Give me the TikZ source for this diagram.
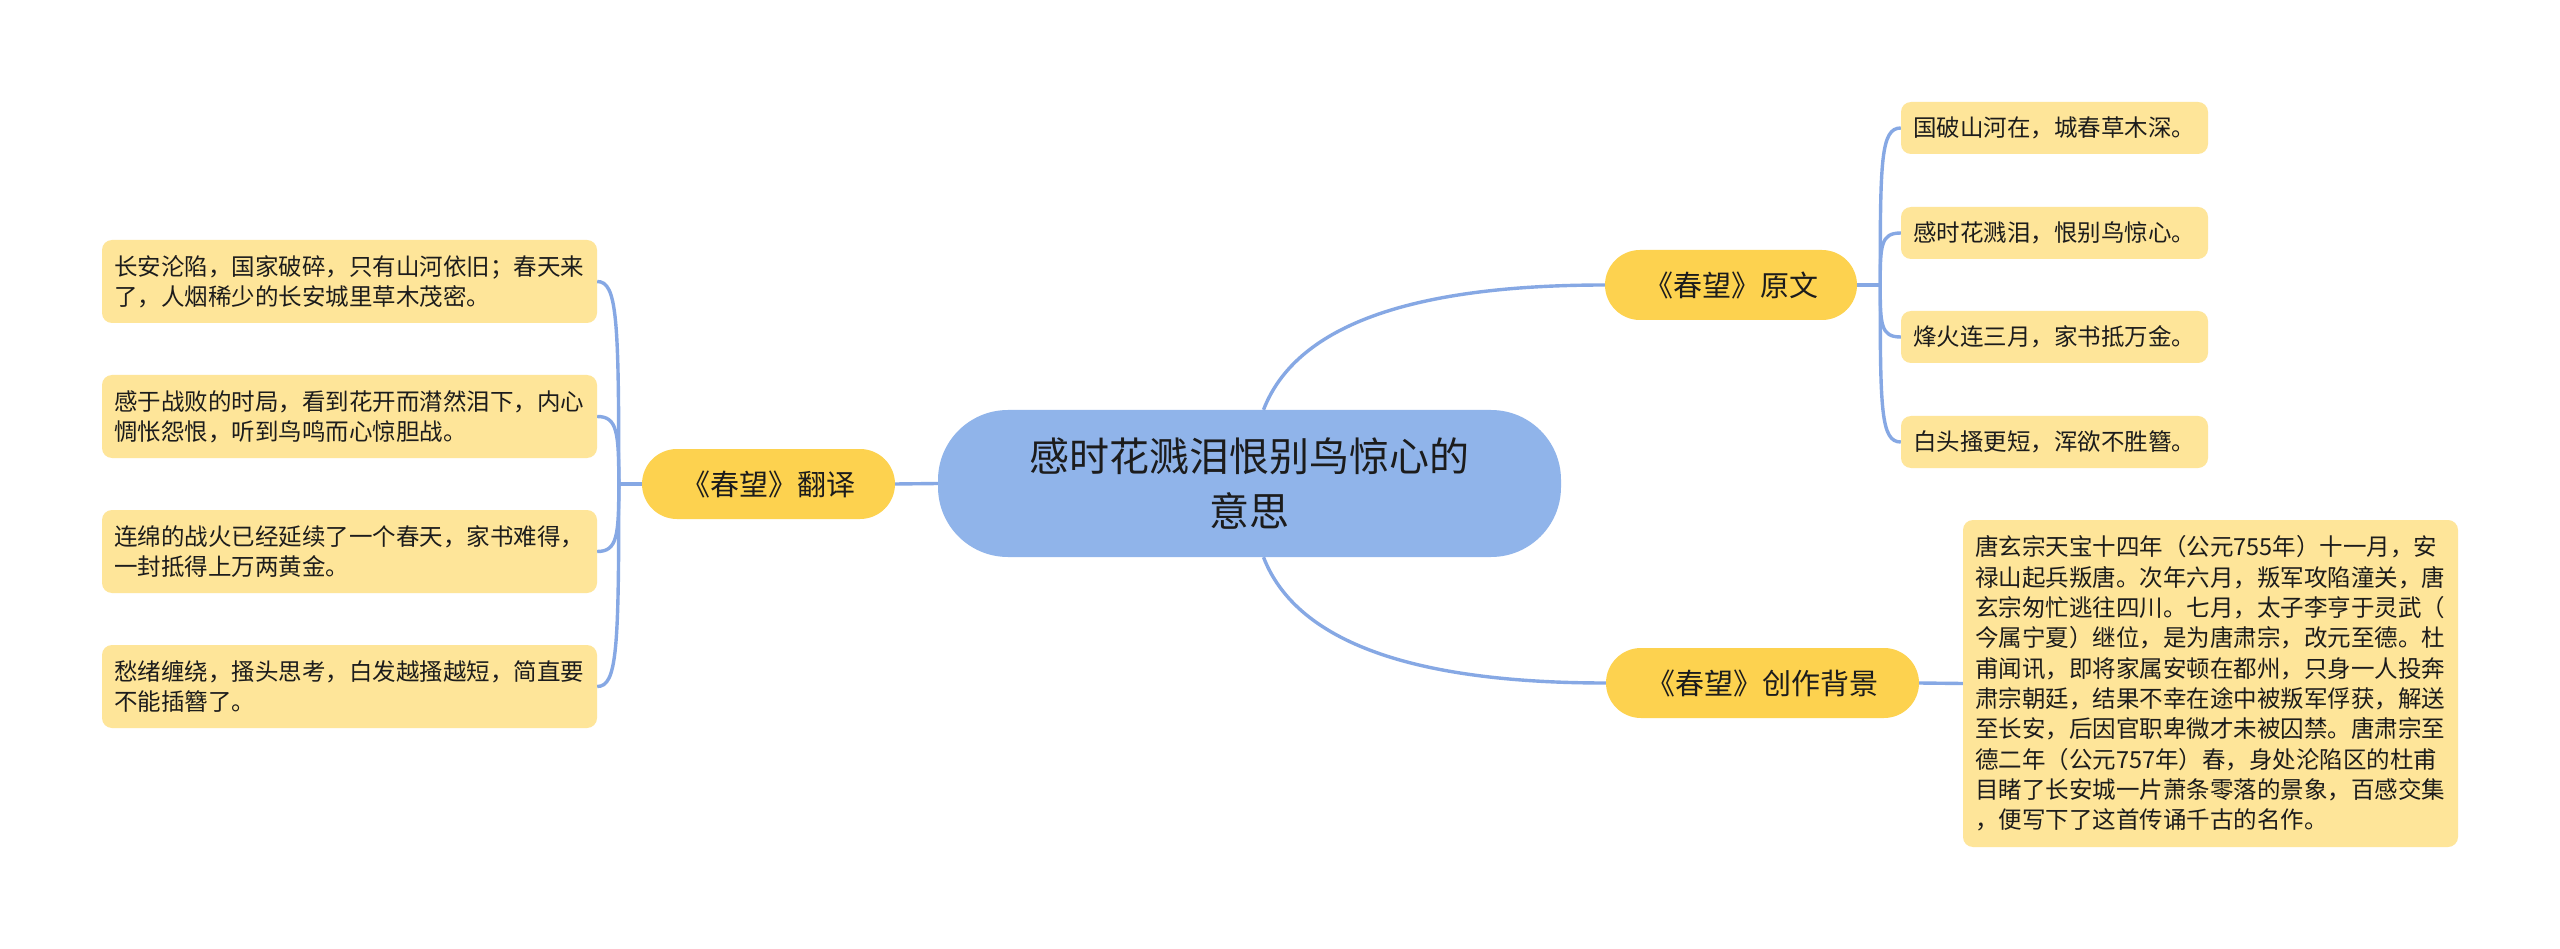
\documentclass[tikz,border=0pt]{standalone}
\usepackage{fontspec}
\newfontfamily\cjk{Noto Sans CJK SC}
\usetikzlibrary{calc}
\definecolor{centralblue}{HTML}{90B4EA}
\definecolor{branchyellow}{HTML}{FDD24F}
\definecolor{leafyellow}{HTML}{FEE599}
\definecolor{linkblue}{HTML}{86A8E4}
\definecolor{inkdark}{HTML}{1C1C1C}
\begin{document}
\begin{tikzpicture}[x=1pt,y=-1pt,
  centralbox/.style={fill=centralblue, rounded corners=70pt, minimum width=623pt, minimum height=147pt, inner sep=0pt, align=center, font=\cjk\fontsize{40}{55}\selectfont, text=inkdark},
  branchbox/.style={fill=branchyellow, rounded corners=35pt, minimum height=70pt, inner sep=0pt, font=\cjk\fontsize{29}{35}\selectfont, text=inkdark},
  leafbox/.style={fill=leafyellow, rounded corners=10pt, inner xsep=12pt, inner ysep=0pt, align=left, font=\cjk\fontsize{23.5}{30.3}\selectfont, text=inkdark},
  link/.style={draw=linkblue, line width=3.4pt}
]
\fill[white] (0,0) rectangle (2560,949);
\useasboundingbox (0,0) rectangle (2560,949);

% central and branches
\node[centralbox] (c) at (1249.5,483.5) {感时花溅泪恨别鸟惊心的\\意思};
\node[branchbox, minimum width=252pt] (yw) at (1731,285) {《春望》原文};
\node[branchbox, minimum width=253pt] (fy) at (768.5,484) {《春望》翻译};
\node[branchbox, minimum width=313pt] (bj) at (1762.5,683) {《春望》创作背景};

% right leaves (原文)
\node[leafbox, text width=283pt, minimum height=52pt] (r1) at (2054.5,128) {国破山河在，城春草木深。};
\node[leafbox, text width=283pt, minimum height=52pt] (r2) at (2054.5,233) {感时花溅泪，恨别鸟惊心。};
\node[leafbox, text width=283pt, minimum height=52pt] (r3) at (2054.5,337) {烽火连三月，家书抵万金。};
\node[leafbox, text width=283pt, minimum height=52pt] (r4) at (2054.5,442) {白头搔更短，浑欲不胜簪。};

% left leaves (翻译)
\node[leafbox, text width=471pt, minimum height=83pt] (l1) at (349.5,281.5) {长安沦陷，国家破碎，只有山河依旧；春天来\\了，人烟稀少的长安城里草木茂密。};
\node[leafbox, text width=471pt, minimum height=83pt] (l2) at (349.5,416.5) {感于战败的时局，看到花开而潸然泪下，内心\\惆怅怨恨，听到鸟鸣而心惊胆战。};
\node[leafbox, text width=471pt, minimum height=83pt] (l3) at (349.5,551.5) {连绵的战火已经延续了一个春天，家书难得，\\一封抵得上万两黄金。};
\node[leafbox, text width=471pt, minimum height=83pt] (l4) at (349.5,686.5) {愁绪缠绕，搔头思考，白发越搔越短，简直要\\不能插簪了。};

% background text
\node[leafbox, text width=471pt, minimum height=327pt] (bg) at (2210.5,683.5) {唐玄宗天宝十四年（公元755年）十一月，安\\禄山起兵叛唐。次年六月，叛军攻陷潼关，唐\\玄宗匆忙逃往四川。七月，太子李亨于灵武（\\今属宁夏）继位，是为唐肃宗，改元至德。杜\\甫闻讯，即将家属安顿在都州，只身一人投奔\\肃宗朝廷，结果不幸在途中被叛军俘获，解送\\至长安，后因官职卑微才未被囚禁。唐肃宗至\\德二年（公元757年）春，身处沦陷区的杜甫\\目睹了长安城一片萧条零落的景象，百感交集\\，便写下了这首传诵千古的名作。};

% junctions
\coordinate (jr) at ($(yw.east)+(23,0)$);
\coordinate (jl) at ($(fy.west)+(-23,0)$);

% central connectors
\draw[link] (c.west) -- (fy.east);
\draw[link] ($(c.north)+(14,0)$) .. controls +(27,-70) and +(-225,0) .. (yw.west);
\draw[link] ($(c.south)+(14,0)$) .. controls +(27,70) and +(-225,0) .. (bj.west);
\draw[link] (bj.east) -- (bg.west);

% right leaf connectors
\draw[link] (yw.east) -- (jr);
\draw[link] (jr) .. controls +(0,-125) and +(-20,0) .. (r1.west);
\draw[link] (jr) .. controls +(0,-40) and +(-20,0) .. (r2.west);
\draw[link] (jr) .. controls +(0,40) and +(-20,0) .. (r3.west);
\draw[link] (jr) .. controls +(0,125) and +(-20,0) .. (r4.west);

% left leaf connectors
\draw[link] (fy.west) -- (jl);
\draw[link] (jl) .. controls +(0,-165) and +(20,0) .. (l1.east);
\draw[link] (jl) .. controls +(0,-52) and +(20,0) .. (l2.east);
\draw[link] (jl) .. controls +(0,52) and +(20,0) .. (l3.east);
\draw[link] (jl) .. controls +(0,165) and +(20,0) .. (l4.east);
\end{tikzpicture}
\end{document}
